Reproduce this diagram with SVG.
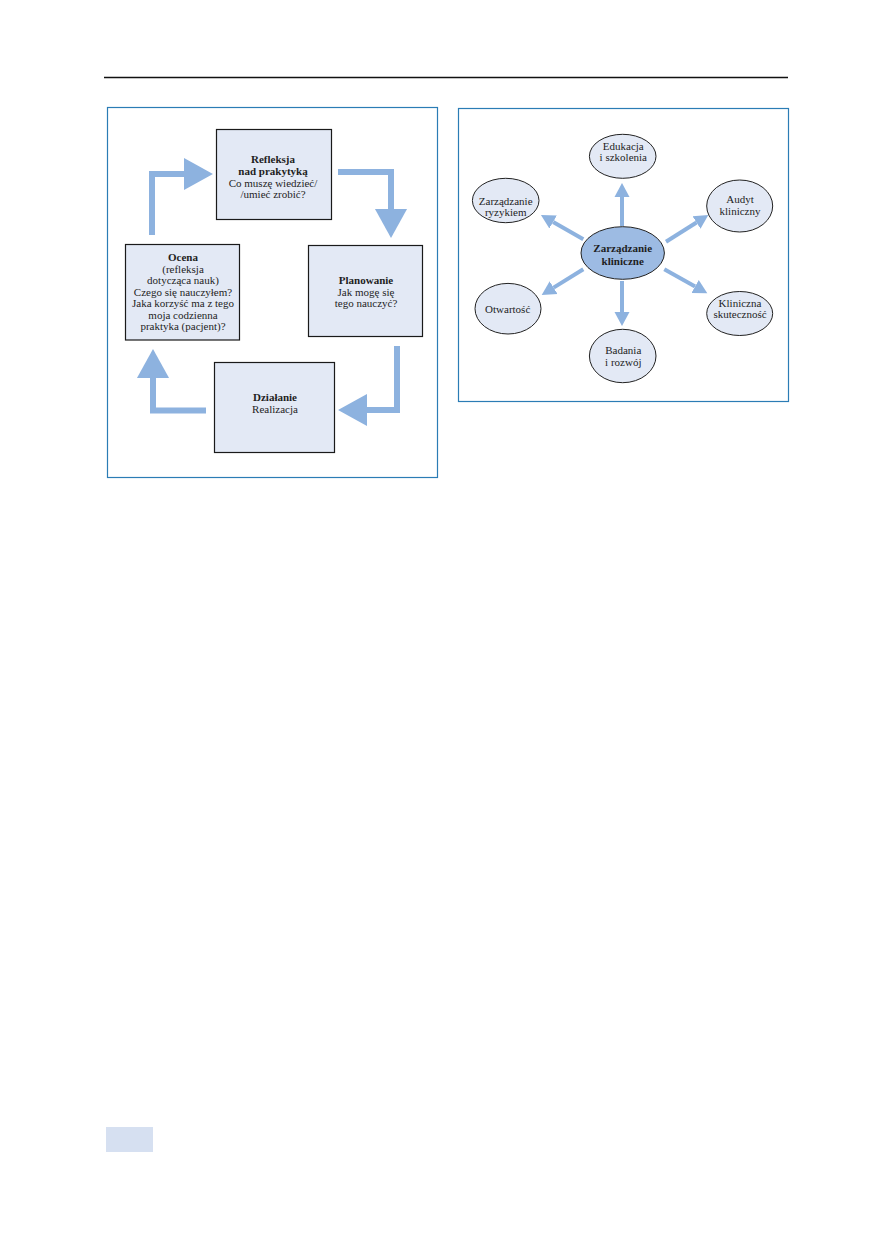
<svg xmlns="http://www.w3.org/2000/svg" width="872" height="1233" viewBox="0 0 872 1233">
<style>
.t{font-family:"Liberation Serif","Times New Roman",serif;font-size:11px;fill:#1e1e1e;text-anchor:middle}
.b{font-weight:bold}
.box{fill:#e3e9f5;stroke:#1a1a1a;stroke-width:1.2}
.ell{fill:#e3e9f5;stroke:#222;stroke-width:1}
.panel{fill:none;stroke:#2b7cb5;stroke-width:1.2}
.bar{fill:none;stroke:#8db2df;stroke-width:6}
.thin{fill:none;stroke:#8db2df;stroke-width:4}
</style>
<defs>
<marker id="bigHead" markerUnits="userSpaceOnUse" markerWidth="30" markerHeight="34" viewBox="0 -16 29 32" refX="0" refY="0" orient="auto">
<path d="M0,-15.5 L28,0 L0,15.5 Z" fill="#8db2df"/>
</marker>
<marker id="smallHead" markerUnits="userSpaceOnUse" markerWidth="15" markerHeight="17" viewBox="0 -8 15 16" refX="0" refY="0" orient="auto">
<path d="M0,-7.5 L14,0 L0,7.5 Z" fill="#8db2df"/>
</marker>
</defs>
<rect width="872" height="1233" fill="#ffffff"/>
<line x1="104" y1="77.5" x2="788" y2="77.5" stroke="#111" stroke-width="1.3"/>
<rect x="106" y="1127" width="47" height="25" fill="#d6e0f1"/>

<!-- Left panel -->
<rect class="panel" x="107.5" y="107.5" width="330" height="370"/>
<g id="connectors-left">
<polyline class="bar" points="152,235 152,174 184,174" marker-end="url(#bigHead)"/>
<polyline class="bar" points="338,172 391,172 391,209" marker-end="url(#bigHead)"/>
<polyline class="bar" points="397,346 397,410 367,410" marker-end="url(#bigHead)"/>
<polyline class="bar" points="206,410.5 153,410.5 153,378" marker-end="url(#bigHead)"/>
</g>
<g id="refleksja">
<rect class="box" x="216.5" y="129.5" width="115" height="90"/>
<text class="t b" x="273" y="163">Refleksja</text>
<text class="t b" x="273" y="175">nad prakytyką</text>
<text class="t" x="273" y="186.5">Co muszę wiedzieć/</text>
<text class="t" x="273" y="197.5">/umieć zrobić?</text>
</g>
<g id="ocena">
<rect class="box" x="125.5" y="244.5" width="114" height="95.5"/>
<text class="t b" x="183" y="260.5">Ocena</text>
<text class="t" x="183" y="272.5">(refleksja</text>
<text class="t" x="183" y="284">dotycząca nauk)</text>
<text class="t" x="183" y="295.5">Czego się nauczyłem?</text>
<text class="t" x="183" y="307">Jaka korzyść ma z tego</text>
<text class="t" x="183" y="318.5">moja codzienna</text>
<text class="t" x="183" y="330">praktyka (pacjent)?</text>
</g>
<g id="planowanie">
<rect class="box" x="308.5" y="245.5" width="114" height="91"/>
<text class="t b" x="366" y="284">Planowanie</text>
<text class="t" x="366" y="295.5">Jak mogę się</text>
<text class="t" x="366" y="306.5">tego nauczyć?</text>
</g>
<g id="dzialanie">
<rect class="box" x="214.5" y="362.5" width="120" height="90"/>
<text class="t b" x="275" y="400.5">Działanie</text>
<text class="t" x="275" y="412.5">Realizacja</text>
</g>

<!-- Right panel -->
<rect class="panel" x="458.5" y="108.5" width="330" height="293"/>
<g id="connectors-right">
<line class="thin" x1="622" y1="226" x2="622" y2="197" marker-end="url(#smallHead)"/>
<line class="thin" x1="622" y1="281" x2="622" y2="312" marker-end="url(#smallHead)"/>
<line class="thin" x1="583.3" y1="239.3" x2="553.1" y2="222" marker-end="url(#smallHead)"/>
<line class="thin" x1="666" y1="241.7" x2="696.5" y2="222.5" marker-end="url(#smallHead)"/>
<line class="thin" x1="583.3" y1="269.3" x2="553.6" y2="287.6" marker-end="url(#smallHead)"/>
<line class="thin" x1="664.3" y1="269.3" x2="695.1" y2="286.5" marker-end="url(#smallHead)"/>
</g>
<g id="zarzadzanie-kliniczne">
<ellipse cx="622.7" cy="253" rx="41.7" ry="26.3" fill="#9dbbe3" stroke="#222" stroke-width="1"/>
<text class="t b" x="622.7" y="252.3">Zarządzanie</text>
<text class="t b" x="622.7" y="264.7">kliniczne</text>
</g>
<g id="edukacja">
<ellipse class="ell" cx="622.7" cy="156.3" rx="33.3" ry="22"/>
<text class="t" x="623.3" y="149.7">Edukacja</text>
<text class="t" x="623.3" y="161.3">i szkolenia</text>
</g>
<g id="ryzyko">
<ellipse class="ell" cx="505.7" cy="200.5" rx="33.3" ry="22.2"/>
<text class="t" x="505.7" y="204.7">Zarządzanie</text>
<text class="t" x="505.7" y="216.3">ryzykiem</text>
</g>
<g id="audyt">
<ellipse class="ell" cx="739.7" cy="206" rx="33" ry="26"/>
<text class="t" x="740" y="203">Audyt</text>
<text class="t" x="740" y="214.7">kliniczny</text>
</g>
<g id="otwartosc">
<ellipse class="ell" cx="508" cy="308.7" rx="33" ry="25.3"/>
<text class="t" x="507.7" y="313.3">Otwartość</text>
</g>
<g id="badania">
<ellipse class="ell" cx="622.7" cy="356" rx="33.3" ry="26.7"/>
<text class="t" x="623.3" y="354">Badania</text>
<text class="t" x="623.3" y="366.3">i rozwój</text>
</g>
<g id="skutecznosc">
<ellipse class="ell" cx="739.7" cy="313.5" rx="33" ry="22"/>
<text class="t" x="740" y="306.7">Kliniczna</text>
<text class="t" x="740" y="318.3">skuteczność</text>
</g>
</svg>
